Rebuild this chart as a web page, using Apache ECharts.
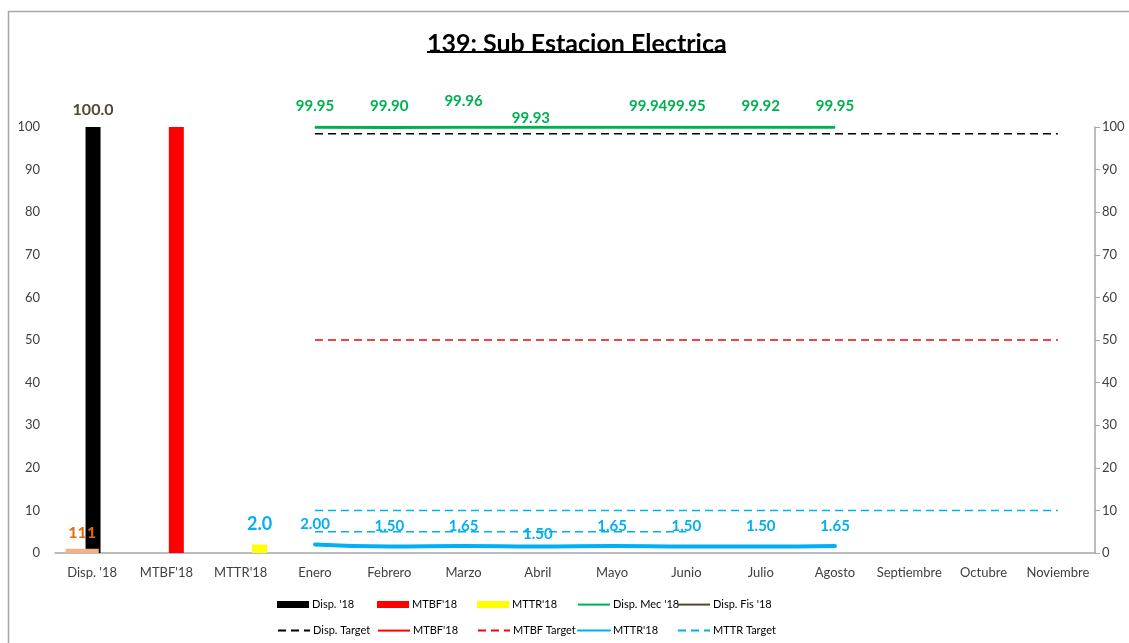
<!DOCTYPE html>
<html>
<head>
<meta charset="utf-8">
<script src="https://cdn.jsdelivr.net/npm/echarts@6/dist/echarts.min.js"></script>
<style>
  html, body { margin: 0; padding: 0; background: #fff; }
  #chart { width: 1129px; height: 643px; }
</style>
</head>
<body>
<div id="chart"></div>
<script>
// categorias del eje X
const categories = ["Disp. '18", "MTBF'18", "MTTR'18", 'Enero', 'Febrero', 'Marzo', 'Abril', 'Mayo',
  'Junio', 'Julio', 'Agosto', 'Septiembre', 'Octubre', 'Noviembre'];
const yTicks = { min: 0, max: 100, interval: 10 };

// barras anuales
const dispBar = [100.0, null, null, null, null, null, null, null, null, null, null, null, null, null];
const mtbfBar = [null, 100, null, null, null, null, null, null, null, null, null, null, null, null];
const mttrBar = [null, null, 2.0, null, null, null, null, null, null, null, null, null, null, null];
const dispFisBar = [1, null, null, null, null, null, null, null, null, null, null, null, null, null];
const dispFisLabel = '111';

// series mensuales
const dispMec = [null, null, null, 99.95, 99.90, 99.96, 99.93, 99.94, 99.95, 99.92, 99.95, null, null, null];
const mttrLine = [null, null, null, 2.00, 1.50, 1.65, 1.50, 1.65, 1.50, 1.50, 1.65, null, null, null];
const dispFisLine = [null, null, null, null, null, null, null, null, null, null, null, null, null, null];
const mtbfLine = [null, null, null, null, null, null, null, null, null, null, null, null, null, null];

// metas
const dispTarget = [null, null, null, 98.4, 98.4, 98.4, 98.4, 98.4, 98.4, 98.4, 98.4, 98.4, 98.4, 98.4];
const mtbfTarget = [null, null, null, 50, 50, 50, 50, 50, 50, 50, 50, 50, 50, 50];
const mttrTarget = [null, null, null, 10, 10, 10, 10, 10, 10, 10, 10, 10, 10, 10];
const mttrTarget2 = [null, null, null, 5, 5, 5, 5, 5, 5, null, null, null, null, null];

// ajustes de etiquetas (solo estilo)
const mecLabelShift = { 5: [0, -5], 6: [-7, 12], 7: [36, 0] };
const mttrLabelShift = { 6: [0, 8] };

const FONT = 'Lato';
const GREEN = '#00b050';
const BLUE = '#00b0f0';

const withShift = (arr, shifts) => arr.map((v, i) => {
  if (v == null || !shifts[i]) return v;
  return { value: v, label: { offset: shifts[i] } };
});

const chart = echarts.init(document.getElementById('chart'));

// leyenda: dos filas de cinco, una leyenda por elemento para fijar la separacion
const legendRows = [
  ["Disp. '18", "MTBF'18", "MTTR'18", "Disp. Mec '18", "Disp. Fis '18"],
  ['Disp. Target', "MTBF'18 ", 'MTBF Target', "MTTR'18 ", 'MTTR Target']
];
const barNames = ["Disp. '18", "MTBF'18", "MTTR'18"];
const legends = [];
legendRows.forEach((row, r) => {
  row.forEach((name, c) => {
    const isBar = barNames.includes(name);
    legends.push({
      left: 272 + c * 100,
      top: 594 + r * 26,
      itemWidth: 32,
      itemHeight: isBar ? 7 : 14,
      itemGap: 0,
      selectedMode: false,
      textStyle: { fontFamily: FONT, fontSize: 11, color: '#000', padding: [0, 0, 0, -2] },
      data: [isBar ? { name, icon: 'rect' } : { name, itemStyle: { opacity: 0 } }]
    });
  });
});

chart.setOption({
  animation: false,
  title: {
    text: '139: Sub Estacion Electrica',
    left: 422,
    top: 26,
    textStyle: { fontFamily: FONT, fontSize: 25, fontWeight: 'bold', color: '#000' }
  },
  graphic: [
    { type: 'rect', shape: { x: 8.5, y: 11.5, width: 1300, height: 800 },
      style: { fill: 'none', stroke: '#a6a6a6', lineWidth: 1.5 }, silent: true },
    { type: 'rect', shape: { x: 427, y: 51, width: 299, height: 2 }, style: { fill: '#000' } }
  ],
  legend: legends,
  grid: { left: 55, right: 34, top: 127, bottom: 90, containLabel: false },
  xAxis: {
    type: 'category',
    data: categories,
    boundaryGap: true,
    axisLine: { lineStyle: { color: '#a6a6a6', width: 1.5 } },
    axisTick: { show: false },
    axisLabel: { interval: 0, margin: 13, fontFamily: FONT, fontSize: 13, color: '#404040' }
  },
  yAxis: [
    {
      type: 'value', min: yTicks.min, max: yTicks.max, interval: yTicks.interval,
      splitLine: { show: false },
      axisLine: { show: false },
      axisTick: { show: false },
      axisLabel: { margin: 15, fontFamily: FONT, fontSize: 13, color: '#404040' }
    },
    {
      type: 'value', position: 'right', min: yTicks.min, max: yTicks.max, interval: yTicks.interval,
      splitLine: { show: false },
      axisLine: { show: true, lineStyle: { color: '#a6a6a6', width: 1.5 } },
      axisTick: { show: true, length: 5, lineStyle: { color: '#a6a6a6' } },
      axisLabel: { margin: 7, fontFamily: FONT, fontSize: 13, color: '#404040' }
    }
  ],
  series: [
    {
      name: 'Disp. Fis base', type: 'bar', data: dispFisBar, barWidth: 33, z: 3,
      itemStyle: { color: '#f4b183' },
      label: { show: true, position: 'top', distance: 8, formatter: () => dispFisLabel,
        fontFamily: FONT, fontSize: 16, fontWeight: 'bold', color: '#e46c0a' }
    },
    {
      name: "Disp. '18", type: 'bar', data: dispBar, barWidth: 15,
      itemStyle: { color: '#000' },
      label: { show: true, position: 'top', distance: 9, formatter: p => p.value.toFixed(1),
        fontFamily: FONT, fontSize: 16, fontWeight: 'bold', color: '#4f4a30' }
    },
    {
      name: "MTBF'18", type: 'bar', data: mtbfBar, barWidth: 15,
      itemStyle: { color: '#ff0000' }
    },
    {
      name: "MTTR'18", type: 'bar', data: mttrBar, barWidth: 15, barGap: '-40%',
      itemStyle: { color: '#ffff00' },
      label: { show: true, position: 'top', distance: 11, formatter: p => p.value.toFixed(1),
        fontFamily: FONT, fontSize: 18, fontWeight: 'bold', color: BLUE }
    },
    {
      name: 'Disp. Target', type: 'line', data: dispTarget, symbol: 'none',
      itemStyle: { color: '#000' },
      lineStyle: { color: '#000', width: 1.5, type: [8, 5] }
    },
    {
      name: 'MTBF Target', type: 'line', data: mtbfTarget, symbol: 'none',
      itemStyle: { color: '#ff0000' },
      lineStyle: { color: '#ff0000', width: 1.5, type: [8, 5] }
    },
    {
      name: 'MTTR Target', type: 'line', data: mttrTarget, symbol: 'none',
      itemStyle: { color: BLUE },
      lineStyle: { color: BLUE, width: 1.5, type: [8, 5] }
    },
    {
      name: 'MTTR Target 2', type: 'line', data: mttrTarget2, symbol: 'none',
      itemStyle: { color: BLUE },
      lineStyle: { color: BLUE, width: 1.5, type: [8, 5] }
    },
    {
      name: "Disp. Mec '18", type: 'line', data: withShift(dispMec, mecLabelShift),
      symbol: 'circle', symbolSize: 1, showAllSymbol: true,
      itemStyle: { color: GREEN },
      lineStyle: { color: GREEN, width: 3 },
      label: { show: true, position: 'top', distance: 13, formatter: p => p.value.toFixed(2),
        fontFamily: FONT, fontSize: 15, fontWeight: 'bold', color: GREEN }
    },
    {
      name: "Disp. Fis '18", type: 'line', data: dispFisLine, symbol: 'none',
      itemStyle: { color: '#4f4a30' },
      lineStyle: { color: '#4f4a30', width: 4 }
    },
    {
      name: "MTBF'18 ", type: 'line', data: mtbfLine, symbol: 'none',
      itemStyle: { color: '#ff0000' },
      lineStyle: { color: '#ff0000', width: 4 }
    },
    {
      name: "MTTR'18 ", type: 'line', data: withShift(mttrLine, mttrLabelShift),
      symbol: 'circle', symbolSize: 1, showAllSymbol: true, smooth: true,
      itemStyle: { color: BLUE },
      lineStyle: { color: BLUE, width: 4, cap: 'round' },
      label: { show: true, position: 'top', distance: 12, formatter: p => p.value.toFixed(2),
        fontFamily: FONT, fontSize: 15, fontWeight: 'bold', color: BLUE }
    }
  ]
});
</script>
</body>
</html>
